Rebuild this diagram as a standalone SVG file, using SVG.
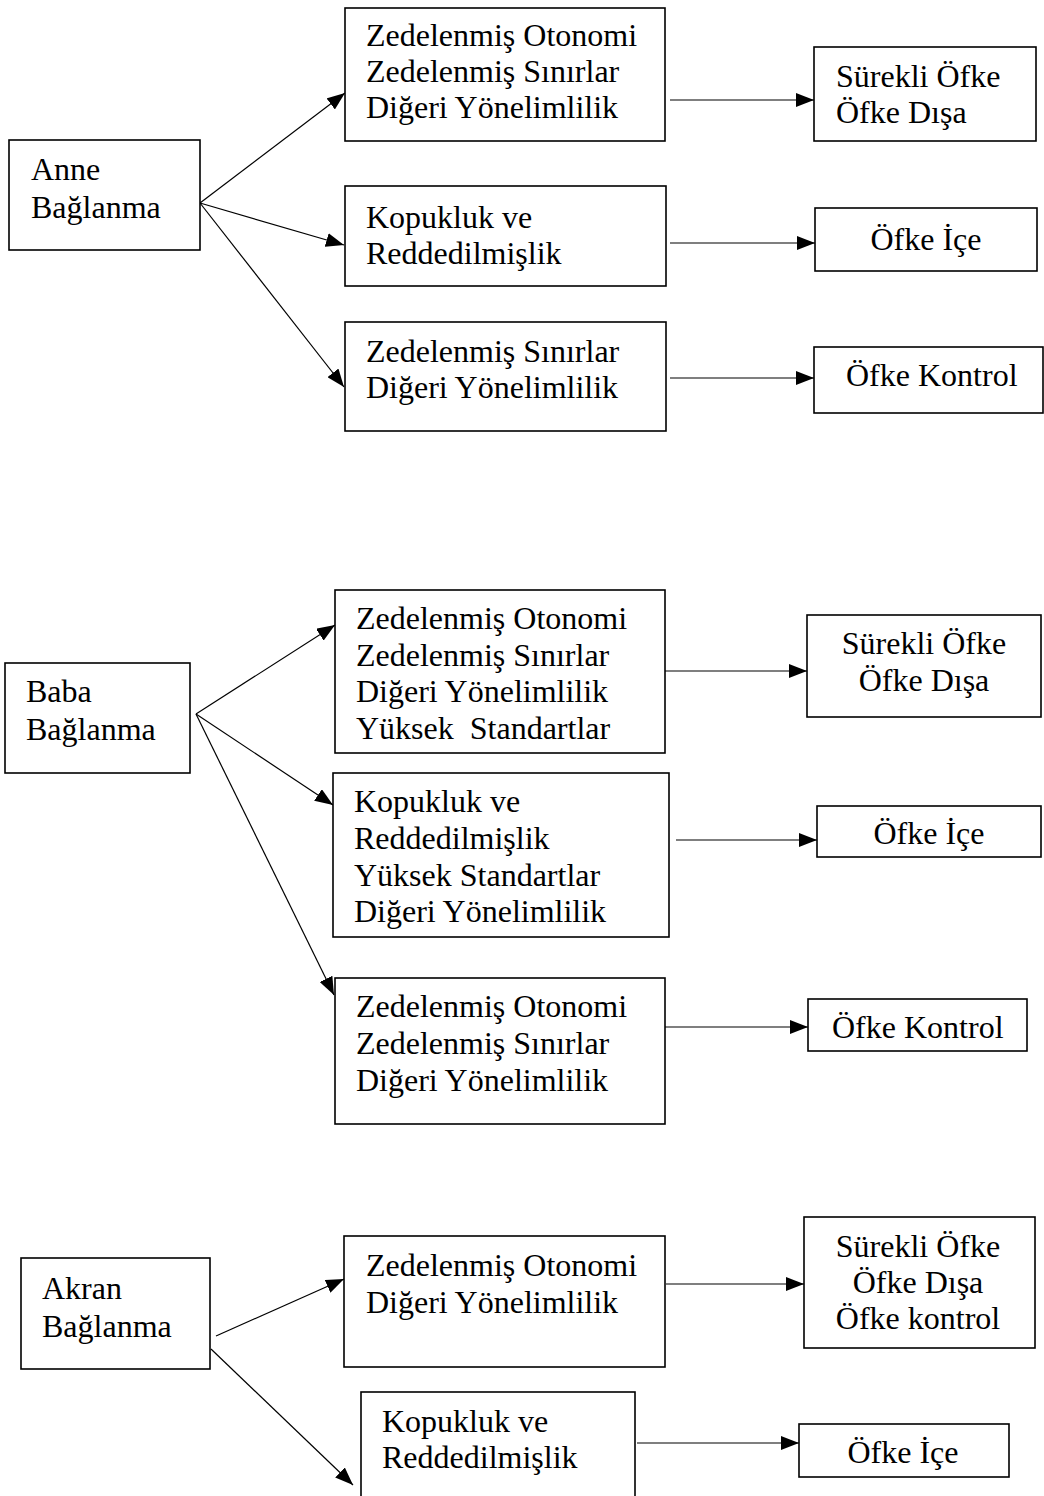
<svg xmlns="http://www.w3.org/2000/svg" width="1044" height="1496" viewBox="0 0 1044 1496">
<style>
rect{fill:#fff;stroke:#000;stroke-width:1.6}
text{font-family:"Liberation Serif","Times New Roman",serif;font-size:32px;fill:#000;white-space:pre}
.c{text-anchor:middle}
#connectors line{stroke:#000;stroke-width:1.2;marker-end:url(#ah)}
</style>
<defs>
<marker id="ah" markerUnits="userSpaceOnUse" markerWidth="18" markerHeight="14" viewBox="0 0 18 14" refX="18" refY="7" orient="auto">
<path d="M0,0 L18,7 L0,14 z" fill="#000"/>
</marker>
</defs>
<rect x="0" y="0" width="1044" height="1496" style="stroke:none"/>
<g id="connectors">
<line x1="200" y1="203" x2="345" y2="93"/>
<line x1="200" y1="203" x2="344" y2="245"/>
<line x1="200" y1="203" x2="344" y2="387"/>
<line x1="670" y1="100" x2="814" y2="100"/>
<line x1="670" y1="243" x2="815" y2="243"/>
<line x1="670" y1="378" x2="814" y2="378"/>
<line x1="196" y1="714" x2="335" y2="625"/>
<line x1="196" y1="714" x2="333" y2="805"/>
<line x1="196" y1="714" x2="334" y2="995"/>
<line x1="665" y1="671" x2="807" y2="671"/>
<line x1="676" y1="840" x2="817" y2="840"/>
<line x1="663" y1="1027" x2="808" y2="1027"/>
<line x1="216" y1="1336" x2="344" y2="1279"/>
<line x1="211" y1="1349" x2="353" y2="1485"/>
<line x1="666" y1="1284" x2="804" y2="1284"/>
<line x1="637" y1="1443" x2="799" y2="1443"/>
</g>
<g id="anne"><rect x="9" y="140" width="191" height="110"/><text x="31" y="180">Anne</text><text x="31" y="218">Bağlanma</text></g>
<g id="anne-1"><rect x="345" y="8" width="320" height="133"/><text x="366" y="46">Zedelenmiş Otonomi</text><text x="366" y="82">Zedelenmiş Sınırlar</text><text x="366" y="118">Diğeri Yönelimlilik</text></g>
<g id="anne-2"><rect x="345" y="186" width="321" height="100"/><text x="366" y="228">Kopukluk ve</text><text x="366" y="264">Reddedilmişlik</text></g>
<g id="anne-3"><rect x="345" y="322" width="321" height="109"/><text x="366" y="362">Zedelenmiş Sınırlar</text><text x="366" y="398">Diğeri Yönelimlilik</text></g>
<g id="anne-r1"><rect x="814" y="47" width="222" height="94"/><text x="836" y="87">Sürekli Öfke</text><text x="836" y="123">Öfke Dışa</text></g>
<g id="anne-r2"><rect x="815" y="208" width="222" height="63"/><text class="c" x="926" y="250">Öfke İçe</text></g>
<g id="anne-r3"><rect x="814" y="347" width="229" height="66"/><text x="846" y="386">Öfke Kontrol</text></g>
<g id="baba"><rect x="5" y="663" width="185" height="110"/><text x="26" y="702">Baba</text><text x="26" y="740">Bağlanma</text></g>
<g id="baba-1"><rect x="335" y="590" width="330" height="163"/><text x="356" y="629">Zedelenmiş Otonomi</text><text x="356" y="666">Zedelenmiş Sınırlar</text><text x="356" y="702">Diğeri Yönelimlilik</text><text x="356" y="739">Yüksek  Standartlar</text></g>
<g id="baba-2"><rect x="333" y="773" width="336" height="164"/><text x="354" y="812">Kopukluk ve</text><text x="354" y="849">Reddedilmişlik</text><text x="354" y="886">Yüksek Standartlar</text><text x="354" y="922">Diğeri Yönelimlilik</text></g>
<g id="baba-3"><rect x="335" y="978" width="330" height="146"/><text x="356" y="1017">Zedelenmiş Otonomi</text><text x="356" y="1054">Zedelenmiş Sınırlar</text><text x="356" y="1091">Diğeri Yönelimlilik</text></g>
<g id="baba-r1"><rect x="807" y="615" width="234" height="102"/><text class="c" x="924" y="654">Sürekli Öfke</text><text class="c" x="924" y="691">Öfke Dışa</text></g>
<g id="baba-r2"><rect x="817" y="806" width="224" height="51"/><text class="c" x="929" y="844">Öfke İçe</text></g>
<g id="baba-r3"><rect x="808" y="999" width="219" height="52"/><text x="832" y="1038">Öfke Kontrol</text></g>
<g id="akran"><rect x="21" y="1258" width="189" height="111"/><text x="42" y="1299">Akran</text><text x="42" y="1337">Bağlanma</text></g>
<g id="akran-1"><rect x="344" y="1236" width="321" height="131"/><text x="366" y="1276">Zedelenmiş Otonomi</text><text x="366" y="1313">Diğeri Yönelimlilik</text></g>
<g id="akran-2"><rect x="361" y="1392" width="274" height="110"/><text x="382" y="1432">Kopukluk ve</text><text x="382" y="1468">Reddedilmişlik</text></g>
<g id="akran-r1"><rect x="804" y="1217" width="231" height="131"/><text class="c" x="918" y="1257">Sürekli Öfke</text><text class="c" x="918" y="1293">Öfke Dışa</text><text class="c" x="918" y="1329">Öfke kontrol</text></g>
<g id="akran-r2"><rect x="799" y="1424" width="210" height="53"/><text class="c" x="903" y="1463">Öfke İçe</text></g>
</svg>
